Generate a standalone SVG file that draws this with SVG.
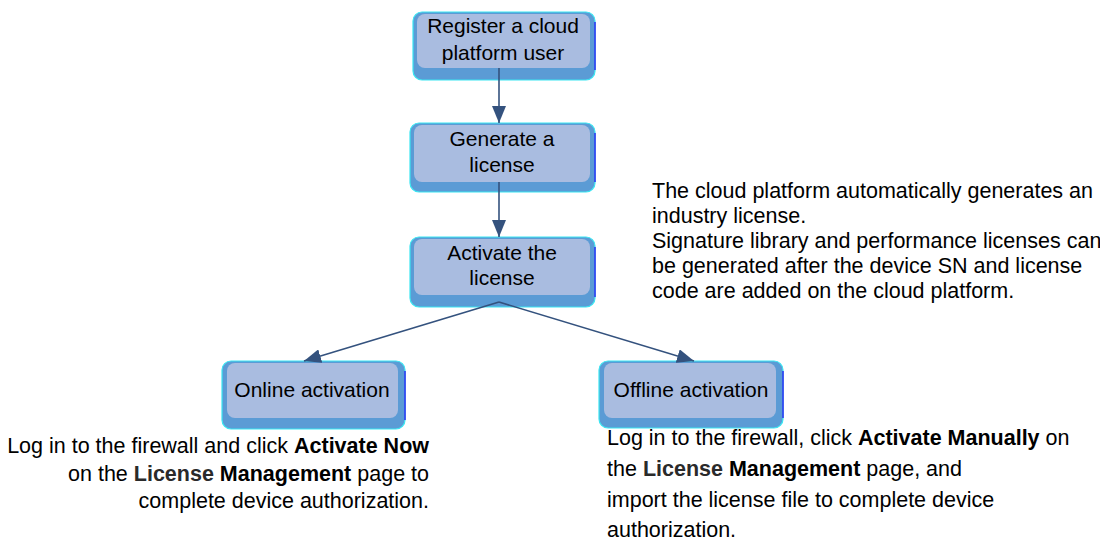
<svg xmlns="http://www.w3.org/2000/svg" width="1100" height="543" viewBox="0 0 1100 543">
<style>
  .outer { fill: #5b9bd5; stroke: #3ae6f2; stroke-width: 1.2; }
  .inner { fill: #a9bce0; }
  .edge { stroke: #2b2bf0; stroke-width: 1.5; fill: none; }
  .lbl { font-family: "Liberation Sans", Arial, sans-serif; font-size: 21px; fill: #000; }
  .c { text-anchor: middle; }
  .txt { font-family: "Liberation Sans", Arial, sans-serif; font-size: 21.5px; fill: #000; }
  .b { font-weight: bold; }
  .conn { stroke: #34527e; stroke-width: 1.6; fill: none; }
</style>
<defs>
  <marker id="ah" markerUnits="userSpaceOnUse" markerWidth="18" markerHeight="14" refX="17" refY="7" orient="auto">
    <path d="M0,0 L17,7 L0,14 z" fill="#34527e"/>
  </marker>
</defs>
<rect width="1100" height="543" fill="#ffffff"/>

<g id="register">
  <rect class="outer" x="413" y="12" width="182" height="68" rx="9"/>
  <rect class="inner" x="417" y="14" width="173" height="54" rx="8"/>
  <line class="edge" x1="595" y1="22" x2="595" y2="70"/>
  <text class="lbl c" x="503" y="33">Register a cloud</text>
  <text class="lbl c" x="503" y="60">platform user</text>
</g>

<g id="generate">
  <rect class="outer" x="410" y="123" width="185" height="69" rx="9"/>
  <rect class="inner" x="414" y="125" width="176" height="57" rx="8"/>
  <line class="edge" x1="595" y1="133" x2="595" y2="182"/>
  <text class="lbl c" x="502" y="146">Generate a</text>
  <text class="lbl c" x="502" y="172">license</text>
</g>

<g id="activate">
  <rect class="outer" x="410" y="237" width="185" height="70" rx="9"/>
  <rect class="inner" x="414" y="239" width="176" height="56" rx="8"/>
  <line class="edge" x1="595" y1="247" x2="595" y2="297"/>
  <text class="lbl c" x="502" y="260">Activate the</text>
  <text class="lbl c" x="502" y="285">license</text>
</g>

<g id="online">
  <rect class="outer" x="222" y="361" width="183" height="68" rx="9"/>
  <rect class="inner" x="227" y="363" width="171" height="55" rx="8"/>
  <line class="edge" x1="405" y1="371" x2="405" y2="420"/>
  <text class="lbl c" x="312" y="397">Online activation</text>
</g>

<g id="offline">
  <rect class="outer" x="599" y="361" width="184" height="67" rx="9"/>
  <rect class="inner" x="604" y="363" width="172" height="55" rx="8"/>
  <line class="edge" x1="783" y1="371" x2="783" y2="418"/>
  <text class="lbl c" x="691" y="397">Offline activation</text>
</g>

<g id="connectors">
  <line class="conn" x1="499" y1="68" x2="499" y2="123" marker-end="url(#ah)"/>
  <line class="conn" x1="499" y1="182" x2="499" y2="237" marker-end="url(#ah)"/>
  <line class="conn" x1="499" y1="302" x2="304" y2="361" marker-end="url(#ah)"/>
  <line class="conn" x1="499" y1="302" x2="694" y2="361" marker-end="url(#ah)"/>
</g>

<g id="note-license">
  <text class="txt" x="652" y="198">The cloud platform automatically generates an</text>
  <text class="txt" x="652" y="223">industry license.</text>
  <text class="txt" x="652" y="248">Signature library and performance licenses can</text>
  <text class="txt" x="652" y="273">be generated after the device SN and license</text>
  <text class="txt" x="652" y="298">code are added on the cloud platform.</text>
</g>

<g id="note-online" text-anchor="end">
  <text class="txt" x="429" y="453">Log in to the firewall and click <tspan class="b">Activate Now</tspan></text>
  <text class="txt" x="429" y="481">on the <tspan class="b" fill="#2a2a2a">License</tspan> <tspan class="b">Management</tspan> page to</text>
  <text class="txt" x="429" y="508">complete device authorization.</text>
</g>

<g id="note-offline">
  <text class="txt" x="607" y="445">Log in to the firewall, click <tspan class="b">Activate Manually</tspan> on</text>
  <text class="txt" x="607" y="476">the <tspan class="b" fill="#2a2a2a">License</tspan> <tspan class="b">Management</tspan> page, and</text>
  <text class="txt" x="607" y="507">import the license file to complete device</text>
  <text class="txt" x="607" y="537">authorization.</text>
</g>
</svg>
